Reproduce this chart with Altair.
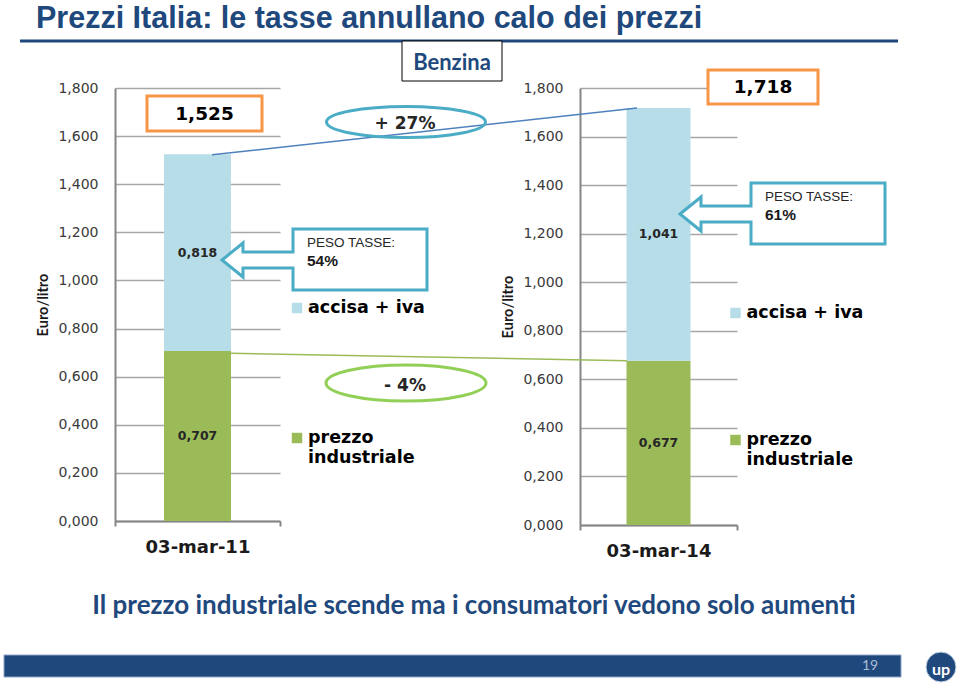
import altair as alt
import pandas as pd

# ---------------- data ----------------
date = ["03-mar-11", "03-mar-14"]
serie = ["prezzo industriale", "accisa + iva"]
prezzo_industriale = [0.707, 0.677]
accisa_iva = [0.818, 1.041]
totale = [1.525, 1.718]
peso_tasse = ["54%", "61%"]
variazioni = ["+ 27%", "- 4%"]   # accisa + iva, prezzo industriale
y_ticks = [0.0, 0.2, 0.4, 0.6, 0.8, 1.0, 1.2, 1.4, 1.6, 1.8]

titolo = "Prezzi Italia: le tasse annullano calo dei prezzi"
carburante = "Benzina"
sottotitolo = "Il prezzo industriale scende ma i consumatori vedono solo aumenti"
pagina = "19"
logo = "up"
y_titolo = "Euro/litro"
peso_label = "PESO TASSE:"

# ---------------- styles ----------------
NAVY = "#1f497d"
GREEN = "#9bbb59"
BLUE = "#b7dde8"
TEAL = "#4bacc6"
ORANGE = "#f79646"
LINE_BLUE = "#4f81bd"
ELL_GREEN = "#92cf57"
F_CAL = "Lato, Calibri, sans-serif"
F_TIT = "Liberation Sans, Arial, sans-serif"
F_VER = "DejaVu Sans, Verdana, sans-serif"
F_ARI = "Liberation Sans, Arial, sans-serif"


def fmt(v):
    return f"{v:.3f}".replace(".", ",")


rows = []
for i, d in enumerate(date):
    base = 0.0
    for k, (s, vals) in enumerate(zip(serie, [prezzo_industriale, accisa_iva])):
        v = vals[i]
        rows.append(dict(data=d, serie=s, ordine=k, valore=v, y0=base, y1=base + v,
                         ymid=base + v / 2, etichetta=fmt(v)))
        base += v
bars = pd.DataFrame(rows)

COL = alt.Scale(domain=serie, range=[GREEN, BLUE])
ONE = pd.DataFrame({"k": [0]})

YAXIS = alt.Axis(values=y_ticks, labelExpr="replace(format(datum.value, '.3f'), '.', ',')",
                 grid=True, gridColor="#a6a6a6", gridWidth=1.5,
                 domain=True, domainColor="#868686", domainWidth=2, ticks=False,
                 labelPadding=17, labelFont=F_VER, labelFontSize=14, labelColor="#3a3a3a",
                 titleFont=F_CAL, titleFontSize=14.5, titleFontWeight="bold", titleColor="#1a1a1a",
                 titlePadding=7)
XAXIS = alt.Axis(labelAngle=0, domain=True, domainColor="#868686", domainWidth=2,
                 ticks=True, tickBand="extent", tickSize=5, tickColor="#868686", tickWidth=2,
                 labelFont=F_VER, labelFontSize=18, labelFontWeight="bold", labelColor="#1a1a1a",
                 labelPadding=12, grid=False)


def text_layer(s, x, y, size, font, weight="normal", color="#000000", align="center",
               baseline="middle", **kw):
    return alt.Chart(pd.DataFrame({"t": [s]})).mark_text(
        font=font, fontSize=size, fontWeight=weight, color=color, align=align,
        baseline=baseline, **kw
    ).encode(x=alt.value(x), y=alt.value(y), text="t:N")


def rect_layer(x, x2, y, y2, **kw):
    return alt.Chart(ONE).mark_rect(**kw).encode(
        x=alt.value(x), x2=alt.value(x2), y=alt.value(y), y2=alt.value(y2))


def shape_layer(path, x, y, size=4, **kw):
    return alt.Chart(ONE).mark_point(shape=path, size=size, opacity=1, **kw).encode(
        x=alt.value(x), y=alt.value(y))


def ellipse(rx, ry):
    return f"M{-rx},0A{rx},{ry} 0 1,0 {rx},0A{rx},{ry} 0 1,0 {-rx},0Z"


CALLOUT = "M0,0L21,-17L21,-8L71,-8L71,-31L205,-31L205,30L71,30L71,8L21,8L21,17Z"


def panel(i, w, h, bar_w, P):
    df = bars[bars["data"] == date[i]]
    ysc = alt.Scale(domain=[0, 1.8], nice=False)

    def Y(field):
        return alt.Y(field, type="quantitative", scale=ysc, axis=YAXIS, title=y_titolo)

    X = alt.X("data:N", scale=alt.Scale(domain=[date[i]], paddingInner=0, paddingOuter=0),
              axis=XAXIS, title=None)
    base = alt.Chart(df)
    layers = [
        base.mark_bar(size=bar_w).encode(
            x=X, y=Y("y1"), y2=alt.Y2("y0"),
            color=alt.Color("serie:N", scale=COL, legend=None)),
        base.mark_text(font=F_VER, fontSize=12.5, fontWeight="bold", color="#262626").encode(
            x=X, y=Y("ymid"), text="etichetta:N"),
        # total box
        rect_layer(*P["box"], fill="white", stroke=ORANGE, strokeWidth=3),
        text_layer(fmt(totale[i]), *P["box_t"], 18.5, F_VER, "bold", "#000000"),
        # callout
        shape_layer(CALLOUT, *P["call"], filled=True, fill="white", stroke=TEAL, strokeWidth=3),
        text_layer(peso_label, P["call"][0] + 85, P["call"][1] - 17, 13.5, F_ARI,
                   color="#262626", align="left"),
        text_layer(peso_tasse[i], P["call"][0] + 85, P["call"][1] + 1, 15.5, F_ARI, "bold",
                   "#1a1a1a", align="left"),
    ]
    # legend (same colour scale as the bars)
    lx, ly_a, ly_p = P["leg"]
    for s, yy in [(serie[1], ly_a), (serie[0], ly_p)]:
        layers.append(alt.Chart(pd.DataFrame({"serie": [s]})).mark_square(size=110, opacity=1).encode(
            x=alt.value(lx), y=alt.value(yy),
            color=alt.Color("serie:N", scale=COL, legend=None)))
    layers.append(text_layer(serie[1], lx + 11, ly_a, 17.5, F_VER, "bold", "#000000", align="left"))
    layers.append(text_layer(serie[0], lx + 11, ly_p, 17.5, F_VER, "bold", "#000000",
                             align="left", lineBreak=" ", lineHeight=20))
    return layers


# ---------- left panel (plot origin = slide (115, 88)) ----------
Lp = dict(box=(32, 147, 8, 43), box_t=(89.5, 26), call=(107, 172), leg=(182, 220, 350))
left_layers = [rect_layer(-115, 845, -88, 603, fill="white", opacity=0)]
left_layers += panel(0, 165, 433, 67, Lp)
left_layers += [
    text_layer(titolo, -79, -60, 30.5, F_TIT, "bold", NAVY, align="left", baseline="alphabetic"),
    alt.Chart(ONE).mark_rule(color=NAVY, strokeWidth=3).encode(
        x=alt.value(-95), x2=alt.value(783), y=alt.value(-47)),
    rect_layer(287, 387, -47, -7, fill="white", stroke="#000000", strokeWidth=1),
    text_layer(carburante, 337, -25, 22, F_CAL, "bold", NAVY),
    text_layer(sottotitolo, 359, 518, 26, F_CAL, "bold", NAVY),
    rect_layer(-111, 786, 567, 589, fill=NAVY, stroke="#8ea4c4", strokeWidth=1),
    text_layer(pagina, 755, 578, 14, F_CAL, "normal", "#a9bcd6"),
    shape_layer("circle", 826, 579, size=900, filled=True, fill=NAVY, stroke="#c9d5e6",
                strokeWidth=1),
    text_layer(logo, 826, 582, 16, F_CAL, "bold", "#ffffff"),
]
left = alt.layer(*left_layers).properties(width=165, height=433)

# ---------- right panel (plot origin = slide (580, 88)) ----------
Rp = dict(box=(128, 238, -18, 16), box_t=(183, -1), call=(100, 126), leg=(155.5, 225, 352))
ysc_r = alt.Scale(domain=[0, 1.8], nice=False)
conn = pd.DataFrame({"a": [totale[0]], "b": [totale[1]], "c": [prezzo_industriale[0]],
                     "d": [prezzo_industriale[1]]})
right_layers = panel(1, 157, 437, 64, Rp)
right_layers += [
    alt.Chart(conn).mark_rule(color=LINE_BLUE, strokeWidth=1.5).encode(
        x=alt.value(-368), x2=alt.value(57),
        y=alt.Y("a:Q", scale=ysc_r, axis=YAXIS, title=y_titolo), y2=alt.Y2("b")),
    alt.Chart(conn).mark_rule(color=GREEN, strokeWidth=1.5).encode(
        x=alt.value(-349), x2=alt.value(47),
        y=alt.Y("c:Q", scale=ysc_r, axis=YAXIS, title=y_titolo), y2=alt.Y2("d")),
    shape_layer(ellipse(79.5, 15.5), -174, 34, filled=False, stroke=TEAL, strokeWidth=3),
    shape_layer(ellipse(80, 18), -174, 295, filled=False, stroke=ELL_GREEN, strokeWidth=3),
    text_layer(variazioni[0], -175, 36, 17, F_VER, "bold", "#262626"),
    text_layer(variazioni[1], -175, 298, 17, F_VER, "bold", "#262626"),
]
right = alt.layer(*right_layers).properties(width=157, height=437)

chart = alt.hconcat(left, right, spacing=300, bounds="flush").resolve_scale(
    x="independent", y="independent", color="shared"
).properties(
    padding=0, autosize=alt.AutoSizeParams(type="pad")
).configure_view(strokeWidth=0)

chart.save("out.html", embed_options={"renderer": "svg", "actions": False})
